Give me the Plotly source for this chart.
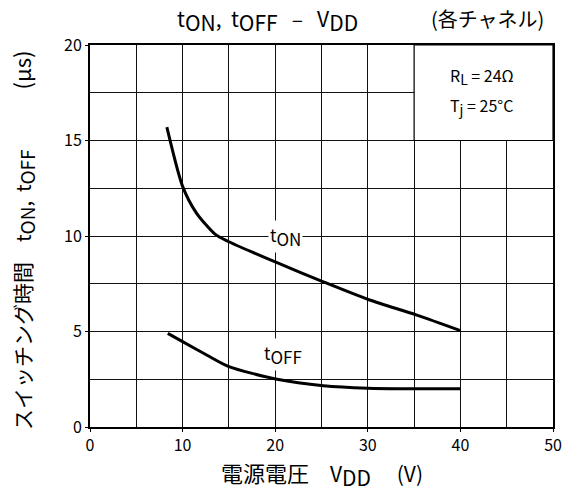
import plotly.graph_objects as go

# data
ton_vdd = [8.3, 10, 11.5, 13.5, 15, 20.2, 25.2, 30.2, 35.3, 40]
ton_us = [15.7, 12.6, 11.2, 10.1, 9.7, 8.6, 7.6, 6.65, 5.86, 5.05]
toff_vdd = [8.4, 10, 12.6, 15, 20.2, 25.2, 30, 35, 40]
toff_us = [4.9, 4.47, 3.77, 3.16, 2.5, 2.16, 2.03, 2.0, 2.0]
x_ticks = [0, 10, 20, 30, 40, 50]
y_ticks = [0, 5, 10, 15, 20]

FONT = "Noto Sans CJK JP"
PL, PT, PR, PB = 90, 45, 553, 427  # plot area in screenshot pixels
W, H = 565, 495
L, T, R, B = PL, PT, W - PR, H - PB
PW, PH = PR - PL, PB - PT


def px(xp):
    return (xp - PL) / PW


def py(yp):
    return (PB - yp) / PH


def sub(s, size):
    return f"<sub><span style='font-size:{size}px'>{s}</span></sub>"


def big(s, size):
    return f"<span style='font-size:{size}px'>{s}</span>"


def note(xp, yp, text, size, angle=0):
    fig.add_annotation(x=px(xp), y=py(yp), xref="paper", yref="paper",
                       xanchor="center", yanchor="middle", textangle=angle,
                       text=text, showarrow=False,
                       font=dict(size=size, color="black", family=FONT))


fig = go.Figure()
for xs, ys in ((ton_vdd, ton_us), (toff_vdd, toff_us)):
    fig.add_trace(go.Scatter(x=xs, y=ys, mode="lines",
                             line=dict(color="black", width=3, shape="spline", smoothing=0.7),
                             showlegend=False, hoverinfo="skip"))

# condition box (covers grid)
fig.add_shape(type="rect", xref="x", yref="y", x0=35, x1=50, y0=15, y1=20,
              fillcolor="white", line=dict(color="black", width=1.2), layer="above")

note(482, 76, "R" + sub("L", 14) + " = 24Ω", 16)
note(481, 106, "T" + sub("j", 14) + " = 25°C", 16)

fig.add_annotation(x=21.1, y=10.0, xref="x", yref="y", text="t" + sub("ON", 17),
                   showarrow=False, bgcolor="white", borderpad=1,
                   font=dict(size=17, color="black", family=FONT))
fig.add_annotation(x=20.8, y=3.8, xref="x", yref="y", text="t" + sub("OFF", 17),
                   showarrow=False, bgcolor="white", borderpad=1,
                   font=dict(size=17, color="black", family=FONT))

# chart title
note(267, 20, "t" + sub("ON", 21) + ",  t" + sub("OFF", 21) + "   –   V" + sub("DD", 21), 21)
note(487, 19, "(各チャネル)", 20)

# axis titles
note(322, 474, big("電源電圧", 22) + "　V" + sub("DD", 21) + "　 (V)", 21)
note(22, 240, big("スイッチング時間", 21) + "　t" + sub("ON", 19) + ",  t" + sub("OFF", 19)
     + "　　　" + big("(μs)", 22), 20, -90)

fig.update_layout(
    width=W, height=H,
    margin=dict(l=L, r=R, t=T, b=B, autoexpand=False),
    paper_bgcolor="white", plot_bgcolor="white",
    font=dict(family=FONT, color="black", size=15),
)

fig.update_xaxes(range=[0, 50], tickvals=x_ticks, showgrid=True, automargin=False,
                 showline=True, linecolor="black", linewidth=2, mirror=True,
                 ticks="outside", ticklen=3, tickcolor="black",
                 gridcolor="#111", gridwidth=1, zeroline=False,
                 tickfont=dict(size=16, family=FONT),
                 minor=dict(dtick=5, tick0=0, showgrid=True, gridcolor="#111", gridwidth=1))
fig.update_yaxes(range=[0, 20], tickvals=y_ticks, showgrid=True, automargin=False,
                 showline=True, linecolor="black", linewidth=2, mirror=True,
                 ticks="outside", ticklen=3, tickcolor="black",
                 gridcolor="#111", gridwidth=1, zeroline=False,
                 tickfont=dict(size=16, family=FONT),
                 minor=dict(dtick=2.5, tick0=0, showgrid=True, gridcolor="#111", gridwidth=1))

fig.write_html("out.html", config={"displayModeBar": False},
               post_script="document.body.style.margin='0';document.body.style.overflow='hidden';")
